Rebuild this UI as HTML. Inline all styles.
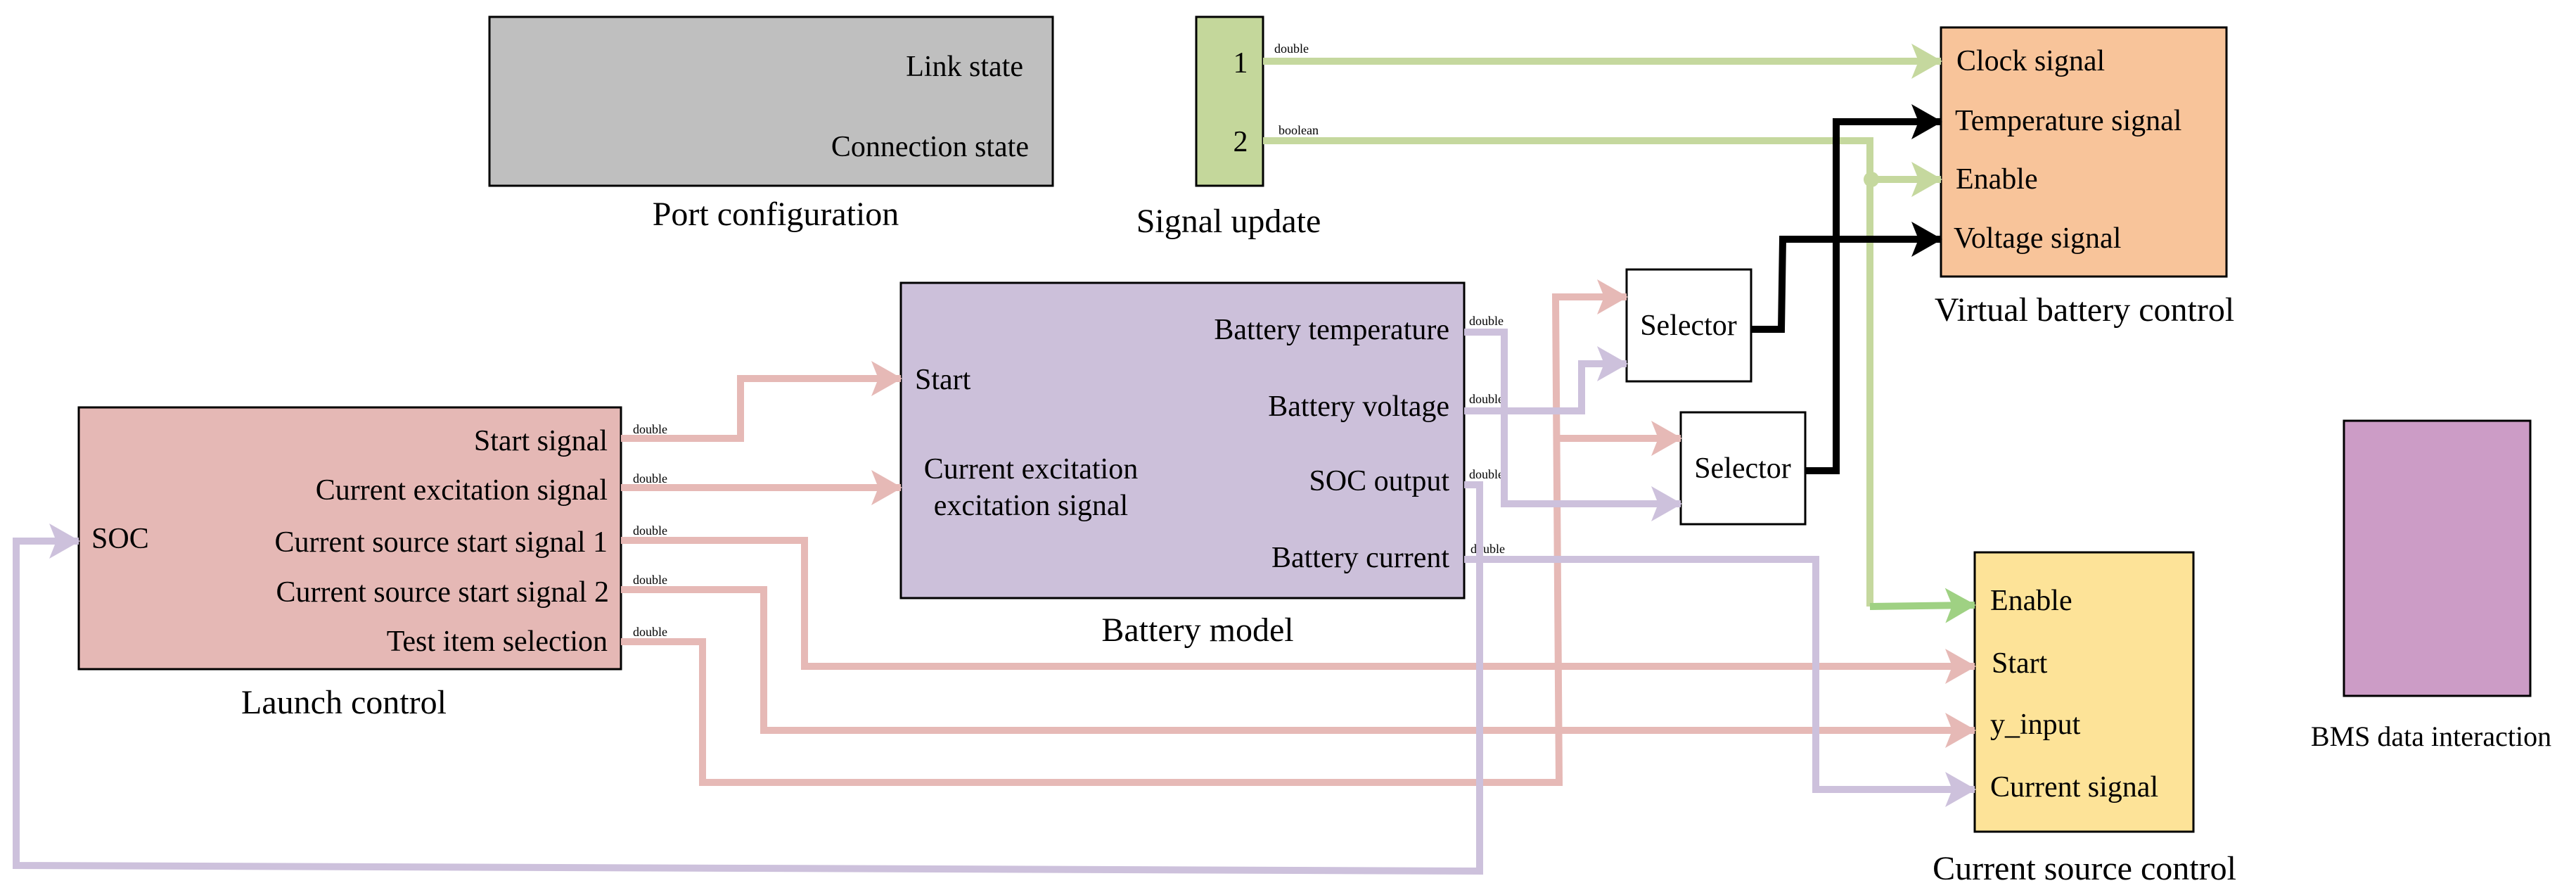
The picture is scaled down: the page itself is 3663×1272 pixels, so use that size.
<!DOCTYPE html>
<html><head><meta charset="utf-8"><style>
html,body{margin:0;padding:0;background:#fff;}
svg{display:block;font-family:"Liberation Serif","DejaVu Serif",serif;}
svg text{font-family:"Liberation Serif","DejaVu Serif",serif;fill:#000;}
</style></head><body>
<svg width="3663" height="1272" viewBox="0 0 3663 1272" xmlns="http://www.w3.org/2000/svg" font-family="Liberation Serif, DejaVu Serif, serif">
<defs>
<marker id="ap" markerUnits="userSpaceOnUse" markerWidth="44" markerHeight="50" refX="42" refY="25" orient="auto"><path d="M0,0 L44,25 L0,50 L10,25 z" fill="#e6b9b6"/></marker>
<marker id="av" markerUnits="userSpaceOnUse" markerWidth="44" markerHeight="50" refX="42" refY="25" orient="auto"><path d="M0,0 L44,25 L0,50 L10,25 z" fill="#cdc1dc"/></marker>
<marker id="ag" markerUnits="userSpaceOnUse" markerWidth="44" markerHeight="50" refX="42" refY="25" orient="auto"><path d="M0,0 L44,25 L0,50 L10,25 z" fill="#c5d89e"/></marker>
<marker id="ag2" markerUnits="userSpaceOnUse" markerWidth="44" markerHeight="50" refX="42" refY="25" orient="auto"><path d="M0,0 L44,25 L0,50 L10,25 z" fill="#9fd183"/></marker>
<marker id="ak" markerUnits="userSpaceOnUse" markerWidth="44" markerHeight="50" refX="42" refY="25" orient="auto"><path d="M0,0 L44,25 L0,50 L10,25 z" fill="#000"/></marker>
</defs>

<rect x="696" y="24" width="801" height="240" fill="#bfbfbf" stroke="#000" stroke-width="3"/>
<text x="1455" y="108" font-size="42" text-anchor="end">Link state</text>
<text x="1463" y="222" font-size="42" text-anchor="end">Connection state</text>
<text x="1103" y="320" font-size="48" text-anchor="middle">Port configuration</text>

<rect x="1701" y="24" width="95" height="240" fill="#c4d79b" stroke="#000" stroke-width="3"/>
<text x="1764" y="103" font-size="42" text-anchor="middle">1</text>
<text x="1764" y="215" font-size="42" text-anchor="middle">2</text>
<text x="1747" y="330" font-size="48" text-anchor="middle">Signal update</text>

<rect x="112" y="579" width="771" height="372" fill="#e5b8b5" stroke="#000" stroke-width="3"/>
<text x="864" y="640" font-size="42" text-anchor="end">Start signal</text>
<text x="864" y="710" font-size="42" text-anchor="end">Current excitation signal</text>
<text x="864" y="784" font-size="42" text-anchor="end">Current source start signal 1</text>
<text x="866" y="855" font-size="42" text-anchor="end">Current source start signal 2</text>
<text x="864" y="925" font-size="42" text-anchor="end">Test item selection</text>
<text x="130" y="779" font-size="42">SOC</text>
<text x="489" y="1014" font-size="48" text-anchor="middle">Launch control</text>
<g font-size="18"><text x="900" y="616">double</text><text x="900" y="686">double</text><text x="900" y="760">double</text><text x="900" y="830">double</text><text x="900" y="904">double</text></g>

<rect x="1281" y="402" width="801" height="448" fill="#ccc0da" stroke="#000" stroke-width="3"/>
<text x="1301" y="553" font-size="42">Start</text>
<text x="1466" y="680" font-size="42" text-anchor="middle">Current excitation</text>
<text x="1466" y="732" font-size="42" text-anchor="middle">excitation signal</text>
<text x="2061" y="482" font-size="42" text-anchor="end">Battery temperature</text>
<text x="2061" y="591" font-size="42" text-anchor="end">Battery voltage</text>
<text x="2061" y="697" font-size="42" text-anchor="end">SOC output</text>
<text x="2061" y="806" font-size="42" text-anchor="end">Battery current</text>
<text x="1703" y="911" font-size="48" text-anchor="middle">Battery model</text>
<g font-size="18"><text x="2089" y="462">double</text><text x="2089" y="573">double</text><text x="2089" y="680">double</text><text x="2091" y="786">double</text></g>
<g font-size="18"><text x="1812" y="75">double</text><text x="1818" y="191">boolean</text></g>

<rect x="2313" y="383" width="177" height="159" fill="#fff" stroke="#000" stroke-width="3"/>
<text x="2401" y="476" font-size="42" text-anchor="middle">Selector</text>
<rect x="2390" y="586" width="177" height="159" fill="#fff" stroke="#000" stroke-width="3"/>
<text x="2478" y="679" font-size="42" text-anchor="middle">Selector</text>

<rect x="2760" y="39" width="406" height="354" fill="#f8c49a" stroke="#000" stroke-width="3"/>
<text x="2782" y="100" font-size="42">Clock signal</text>
<text x="2780" y="185" font-size="42">Temperature signal</text>
<text x="2781" y="268" font-size="42">Enable</text>
<text x="2778" y="352" font-size="42">Voltage signal</text>
<text x="2964" y="456" font-size="48" text-anchor="middle">Virtual battery control</text>

<rect x="2808" y="785" width="311" height="397" fill="#fde398" stroke="#000" stroke-width="3"/>
<text x="2830" y="867" font-size="42">Enable</text>
<text x="2832" y="956" font-size="42">Start</text>
<text x="2830" y="1043" font-size="42">y_input</text>
<text x="2830" y="1132" font-size="42">Current signal</text>
<text x="2964" y="1250" font-size="48" text-anchor="middle">Current source control</text>

<rect x="3333" y="598" width="265" height="391" fill="#cc9cc6" stroke="#000" stroke-width="3"/>
<text x="3457" y="1060" font-size="40" text-anchor="middle">BMS data interaction</text>

<g fill="none" stroke-width="10" stroke-linejoin="miter">
<polyline stroke="#e6b9b6" marker-end="url(#ap)" points="883,623 1053,623 1053,538 1281,538"/>
<polyline stroke="#e6b9b6" marker-end="url(#ap)" points="883,693 1281,693"/>
<polyline stroke="#e6b9b6" marker-end="url(#ap)" points="883,768 1144,768 1144,947 2808,947"/>
<polyline stroke="#e6b9b6" marker-end="url(#ap)" points="883,838 1086,838 1086,1038 2808,1038"/>
<polyline stroke="#e6b9b6" marker-end="url(#ap)" points="883,912 999,912 999,1112 2217,1112 2212,422 2313,422"/>
<polyline stroke="#e6b9b6" marker-end="url(#ap)" points="2213,623 2390,623"/>

<polyline stroke="#cdc1dc" marker-end="url(#av)" points="2082,472 2139,472 2139,716 2390,716"/>
<polyline stroke="#cdc1dc" marker-end="url(#av)" points="2082,584 2249,584 2249,517 2313,517"/>
<polyline stroke="#cdc1dc" marker-end="url(#av)" points="2082,689 2104,689 2104,1238 23,1230 23,769 112,769"/>
<polyline stroke="#cdc1dc" marker-end="url(#av)" points="2082,795 2582,795 2582,1122 2808,1122"/>

<polyline stroke="#c5d89e" marker-end="url(#ag)" points="1796,87 2760,87"/>
<polyline stroke="#c5d89e" points="1796,200 2659,200 2659,862"/>
<polyline stroke="#9fd183" marker-end="url(#ag2)" points="2659,862 2808,860"/>
<polyline stroke="#c5d89e" marker-end="url(#ag)" points="2659,255 2760,255"/>

<polyline stroke="#000" marker-end="url(#ak)" points="2490,468 2533,468 2535,340 2760,340"/>
<polyline stroke="#000" marker-end="url(#ak)" points="2567,669 2611,669 2611,173 2760,173"/>
</g>
<circle cx="2661" cy="255" r="11" fill="#c5d89e"/>
</svg>
</body></html>
